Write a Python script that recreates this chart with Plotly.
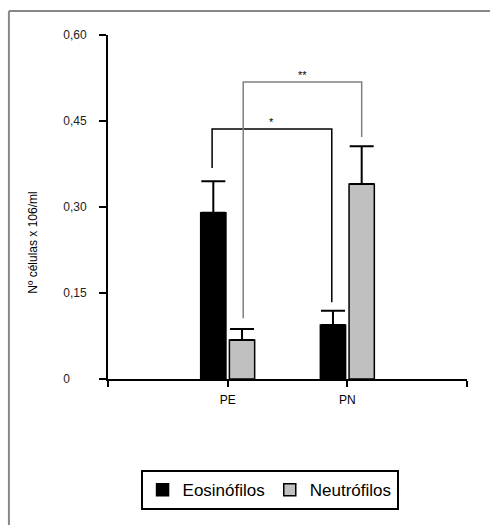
import plotly.graph_objects as go

# ---- data ----
groups = ["PE", "PN"]
group_pos = [1, 2]
eos_values = [0.29, 0.094]
eos_err = [0.055, 0.025]
neu_values = [0.068, 0.34]
neu_err = [0.019, 0.066]

y_tickvals = [0, 0.15, 0.30, 0.45, 0.60]
y_ticktext = ["0\u00a0\u00a0\u00a0\u00a0\u00a0", "0,15", "0,30", "0,45", "0,60"]

# significance brackets
sig_single = dict(x=[0.87, 0.87, 1.87, 1.87], y=[0.368, 0.436, 0.436, 0.134], label="*")
sig_double = dict(x=[1.13, 1.13, 2.12, 2.12], y=[0.106, 0.518, 0.518, 0.422], label="**")

FONT = "Arial, 'Liberation Sans', sans-serif"

fig = go.Figure()
fig.add_trace(go.Bar(
    x=group_pos, y=eos_values, name="Eosinófilos",
    marker=dict(color="#000000", line=dict(color="#000000", width=1.5)),
    error_y=dict(type="data", array=eos_err, arrayminus=[0, 0], symmetric=False,
                 color="#000000", thickness=2, width=12),
))
fig.add_trace(go.Bar(
    x=group_pos, y=neu_values, name="Neutrófilos",
    marker=dict(color="#c0c0c0", line=dict(color="#000000", width=1.5)),
    error_y=dict(type="data", array=neu_err, arrayminus=[0, 0], symmetric=False,
                 color="#000000", thickness=2, width=12),
))

for sig, col in [(sig_single, "#000000"), (sig_double, "#808080")]:
    fig.add_trace(go.Scatter(x=sig["x"], y=sig["y"], mode="lines",
                             line=dict(color=col, width=1.5), showlegend=False,
                             hoverinfo="skip"))
    fig.add_annotation(x=(sig["x"][0] + sig["x"][-1]) / 2, y=sig["y"][1],
                       text=sig["label"], showarrow=False, yshift=7,
                       font=dict(family=FONT, size=11, color="#000"))

fig.update_layout(
    width=490, height=525,
    margin=dict(l=108, r=23, t=35, b=146),
    paper_bgcolor="white", plot_bgcolor="white",
    barmode="group", bargap=0.52, bargroupgap=0.12,
    font=dict(family=FONT, size=12, color="#000"),
    showlegend=True,
    legend=dict(orientation="h", x=0.45, xanchor="center", y=-0.323, yanchor="middle",
                bordercolor="#000", borderwidth=2, font=dict(size=17, family=FONT),
                itemwidth=30, traceorder="normal"),
    xaxis=dict(range=[0, 3], tickvals=[0, 1, 2, 3], ticktext=["", "PE", "PN", ""],
               showline=True, linecolor="#000", linewidth=2, ticks="outside",
               ticklen=6, tickwidth=1.5, tickcolor="#000", showgrid=False,
               zeroline=False, tickfont=dict(size=12), ticklabelstandoff=3),
    yaxis=dict(range=[0, 0.6], tickvals=y_tickvals, ticktext=y_ticktext,
               showline=True, linecolor="#000", linewidth=2, ticks="outside",
               ticklen=7, tickwidth=1.5, tickcolor="#000", showgrid=False,
               zeroline=False, tickfont=dict(size=12, color="#222"), ticklabelstandoff=10),
    shapes=[
        dict(type="line", xref="paper", yref="paper", x0=-0.276, x1=1.2,
             y0=1.0697, y1=1.0697, line=dict(color="#888", width=2)),
        dict(type="line", xref="paper", yref="paper", x0=-0.276, x1=-0.276,
             y0=1.0697, y1=-0.5, line=dict(color="#888", width=2)),
    ],
)
fig.add_annotation(xref="paper", yref="paper", x=-0.235, y=0.395, textangle=-90,
                   text="Nº células x 106/ml", showarrow=False,
                   font=dict(family=FONT, size=12, color="#000"))

fig.write_html("out.html")
